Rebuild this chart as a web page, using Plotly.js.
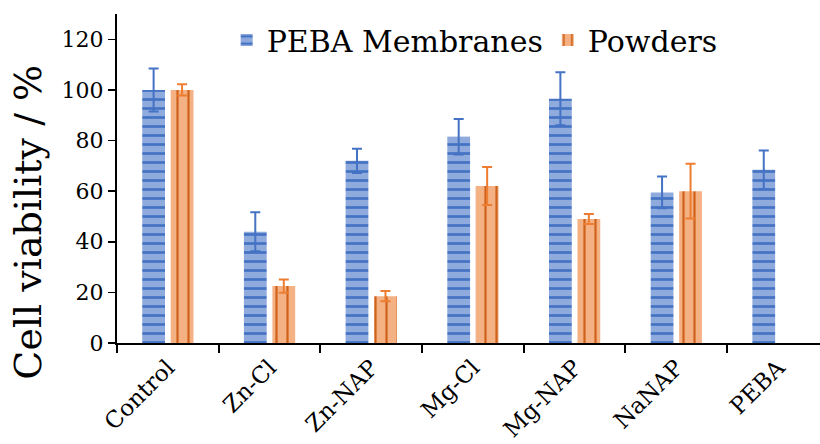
<!DOCTYPE html>
<html>
<head>
<meta charset="utf-8">
<script src="https://cdn.plot.ly/plotly-3.0.1.min.js"></script>
<style>html,body{margin:0;padding:0;background:#fff;}#chart{width:820px;height:444px;}</style>
</head>
<body>
<div id="chart"></div>
<script>
const categories = ["Control", "Zn-Cl", "Zn-NAP", "Mg-Cl", "Mg-NAP", "NaNAP", "PEBA"];
const membraneValues = [100, 44, 72, 81.5, 96.5, 59.5, 68.5];
const membraneErrors = [8.5, 7.7, 4.8, 7, 10.5, 6.3, 7.6];
const powderValues = [100, 22.5, 18.5, 62, 49, 60, null];
const powderErrors = [2.2, 2.6, 2, 7.5, 2, 10.8, null];
const seriesNames = ["PEBA Membranes", "Powders"];
const yTicks = [0, 20, 40, 60, 80, 100, 120];
const yTitle = "Cell viability / %";

const serif = "DejaVu Serif";

const traces = [
  {
    type: "bar",
    name: seriesNames[0],
    x: categories,
    y: membraneValues,
    error_y: {type: "data", array: membraneErrors, visible: true, color: "#4472c4", thickness: 2, width: 5},
    marker: {
      color: "#8faadc",
      line: {width: 0},
      pattern: {shape: "-", bgcolor: "#8faadc", fgcolor: "#4472c4", size: 9, solidity: 0.3, fillmode: "replace"}
    }
  },
  {
    type: "bar",
    name: seriesNames[1],
    x: categories,
    y: powderValues,
    error_y: {type: "data", array: powderErrors, visible: true, color: "#ed7d31", thickness: 2, width: 5},
    marker: {
      color: "#f4b183",
      line: {width: 0},
      pattern: {shape: "|", bgcolor: "#f4b183", fgcolor: "#d0611a", size: 11, solidity: 0.2, fillmode: "replace"}
    }
  }
];

const layout = {
  width: 820,
  height: 444,
  margin: {l: 117, r: 0, t: 14, b: 101},
  paper_bgcolor: "#ffffff",
  plot_bgcolor: "#ffffff",
  barmode: "group",
  bargap: 0.44,
  bargroupgap: 0.2,
  showlegend: true,
  font: {family: serif, color: "#000"},
  legend: {
    orientation: "h",
    x: 0.156, y: 1.0,
    xanchor: "left", yanchor: "top",
    font: {family: serif, size: 30, color: "#000"},
    bgcolor: "rgba(0,0,0,0)",
    itemwidth: 30
  },
  xaxis: {
    type: "category",
    range: [-0.5, 6.413],
    showline: true, linecolor: "#000", linewidth: 2,
    ticks: "outside", ticklen: 8, tickwidth: 2, tickcolor: "#000",
    tickson: "boundaries",
    tickangle: -45,
    tickfont: {family: serif, size: 23, color: "#000"},
    showgrid: false, zeroline: false
  },
  yaxis: {
    range: [0, 130],
    tickvals: yTicks,
    ticktext: yTicks.map(String),
    showline: true, linecolor: "#000", linewidth: 2,
    ticks: "outside", ticklen: 7, tickwidth: 1.5, tickcolor: "#000",
    tickfont: {family: serif, size: 22, color: "#000"},
    showgrid: false, zeroline: false
  },
  annotations: [{
    text: yTitle,
    xref: "paper", yref: "paper",
    x: -0.126, y: 0.367,
    xanchor: "center", yanchor: "middle",
    textangle: -90,
    showarrow: false,
    font: {family: serif, size: 38, color: "#000"}
  }]
};

Plotly.newPlot("chart", traces, layout, {displayModeBar: false, staticPlot: true});
</script>
</body>
</html>
